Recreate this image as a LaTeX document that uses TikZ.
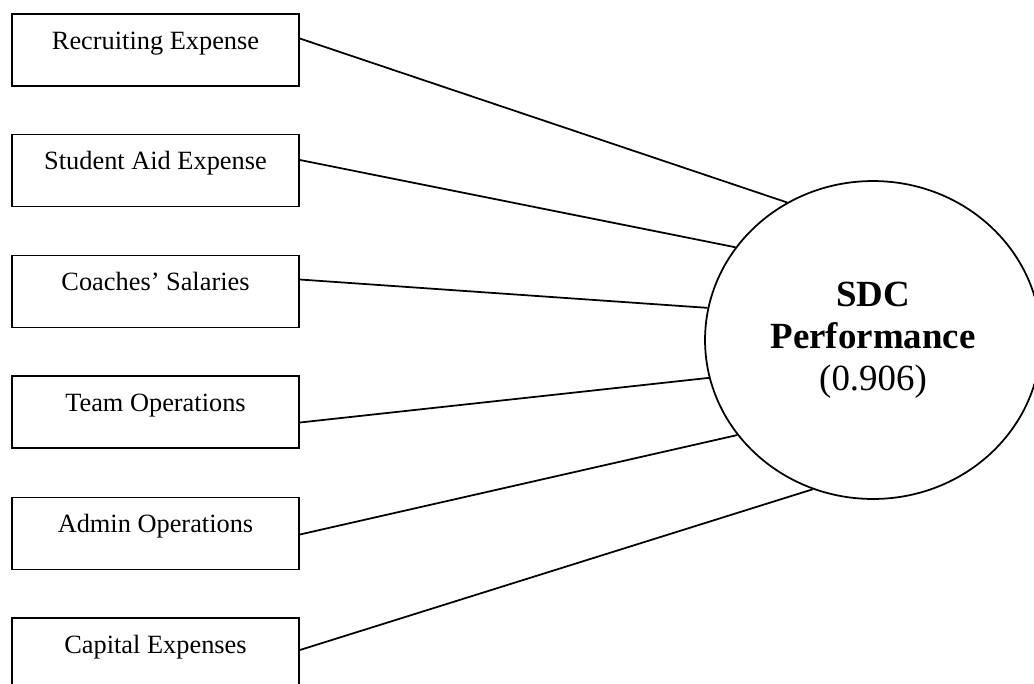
\documentclass[tikz,border=0pt]{standalone}
\usepackage{fontspec}
\setmainfont{Liberation Serif}
\usetikzlibrary{shapes.geometric}
\tikzset{
	factor/.style={rectangle, draw, line width=1pt, minimum width=5.74cm, inner sep=0pt, text height=0.7cm, text depth=0.74cm, font=\fontsize{15}{18}\selectfont},
	outcome/.style={ellipse, draw, line width=1pt, minimum width=6.72cm, minimum height=6.36cm, inner sep=0pt, align=center, font=\fontsize{21}{24}\selectfont},
	link/.style={line width=1pt}
}

\begin{document}
\begin{tikzpicture}[x=0.02cm, y=-0.02cm]
	\useasboundingbox (0,0) rectangle (1034,683);
	\node at (155.5,50) [factor] (rec) {Recruiting Expense};
	\node at (155.5,170.5) [factor] (aid) {Student Aid Expense};
	\node at (155.5,291.5) [factor] (coach) {Coaches' Salaries};
	\node at (155.5,412) [factor] (team) {Team Operations};
	\node at (155.5,533.5) [factor] (admin) {Admin Operations};
	\node at (155.5,654) [factor] (cap) {Capital Expenses};
	\node at (873,340) [outcome] (perf) {\textbf{SDC}\\\textbf{Performance}\\(0.906)};
	\draw[link] ([yshift=0.23cm]rec.east) -- (perf.122);
	\draw[link] ([yshift=0.21cm]aid.east) -- (perf.146);
	\draw[link] ([yshift=0.24cm]coach.east) -- (perf.169);
	\draw[link] ([yshift=-0.21cm]team.east) -- (perf.193);
	\draw[link] ([yshift=-0.02cm]admin.east) -- (perf.215);
	\draw[link] ([yshift=0.08cm]cap.east) -- (perf.248);
\end{tikzpicture}
\end{document}
